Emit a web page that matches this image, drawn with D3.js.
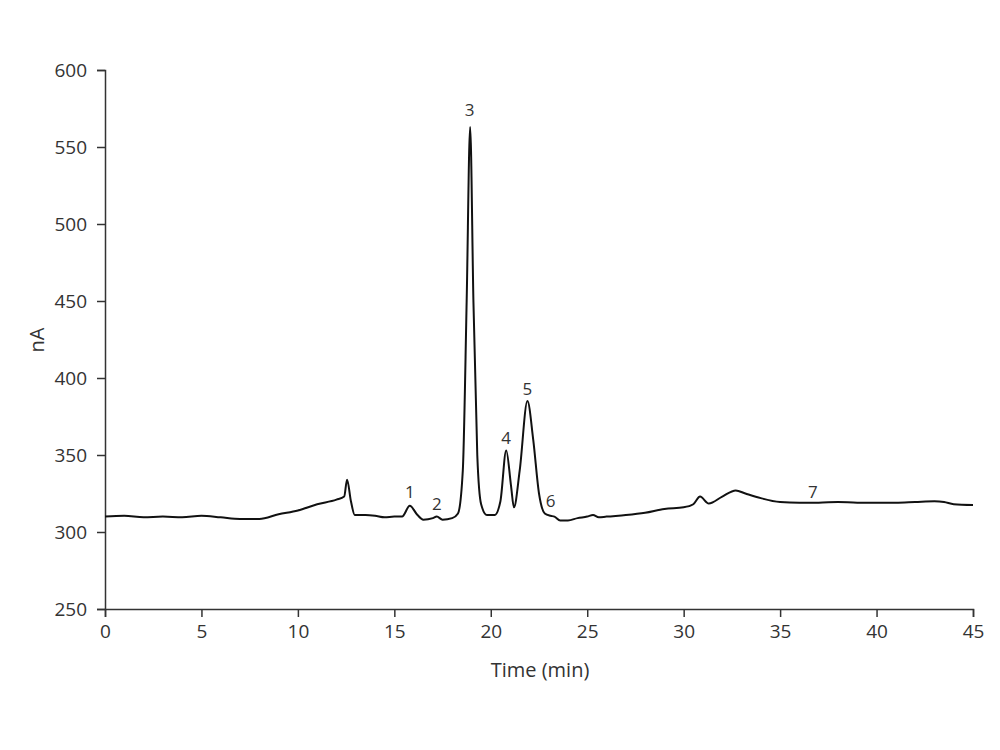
<!DOCTYPE html><html><head><meta charset="utf-8"><script src="https://cdn.jsdelivr.net/npm/d3@7"></script>
<style>body{margin:0;background:#fff}text{font-family:"Open Sans",sans-serif;fill:#333}</style></head><body><svg id="c" width="1000" height="750"></svg>
<script>
const times=[0,1,2,3,4,5,6,7,8,9,10,11,12,12.4,12.55,12.75,12.95,13.5,14,14.5,15,15.4,15.8,16.2,16.5,17,17.2,17.5,18,18.3,18.55,18.75,18.93,19.1,19.3,19.5,19.8,20.2,20.5,20.8,21.05,21.2,21.5,21.9,22.2,22.5,22.8,23.1,23.3,23.6,24,24.5,25,25.3,25.6,26,27,28,29,30,30.5,30.85,31.3,32,32.7,33.2,34,35,36,37,38,39,40,41,42,43,43.5,44,45];
const signal=[310,310.5,309.5,310,309.5,310.5,309.5,308.5,308.5,311.5,314,318,321,323,334,320,311,311,310.5,309.5,310,310,317,311,308,309,310,308,309,312,340,450,563,450,350,318,311,311,320,353,330,316,340,385,360,325,312,310.5,310,307.5,307.5,309,310,311,309.5,310,311,312.5,315,316,318,323,318.5,323,327,325,322,319.5,319,319,319.5,319,319,319,319.5,320,319.5,318,317.5];
const peakLabels=["1","2","3","4","5","6","7"];
const peakX=[15.8,17.2,18.9,20.8,21.9,23.1,36.7];
const peakY=[322,314,570,357,389,316,322];
const xTicks=[0,5,10,15,20,25,30,35,40,45];
const yTicks=[250,300,350,400,450,500,550,600];
const svg=d3.select("#c");
const x=d3.scaleLinear().domain([0,45]).range([105,973]);
const y=d3.scaleLinear().domain([250,600]).range([609,70]);
const ga=svg.append("g").attr("transform","translate(0,609)").call(d3.axisBottom(x).tickValues(xTicks).tickSize(8).tickPadding(8));
const gy=svg.append("g").attr("transform","translate(105,0)").call(d3.axisLeft(y).tickValues(yTicks).tickSize(8).tickPadding(10));
[ga,gy].forEach(g=>{g.select(".domain").attr("stroke","#333").attr("stroke-width",1.5);g.selectAll(".tick line").attr("stroke","#333").attr("stroke-width",1.5);g.selectAll("text").attr("font-size",19).style("fill","#333");});
svg.append("path").datum(times.map((t,i)=>[t,signal[i]])).attr("fill","none").attr("stroke","#111").attr("stroke-width",2)
 .attr("d",d3.line().x(d=>x(d[0])).y(d=>y(d[1])).curve(d3.curveMonotoneX));
svg.selectAll(".pl").data(peakLabels).enter().append("text").attr("x",(d,i)=>x(peakX[i])).attr("y",(d,i)=>y(peakY[i])).attr("text-anchor","middle").attr("font-size",17).text(d=>d);
svg.append("text").attr("x",540).attr("y",677).attr("text-anchor","middle").attr("font-size",20).text("Time (min)");
svg.append("text").attr("transform","translate(44,340) rotate(-90)").attr("text-anchor","middle").attr("font-size",20).text("nA");
</script></body></html>
